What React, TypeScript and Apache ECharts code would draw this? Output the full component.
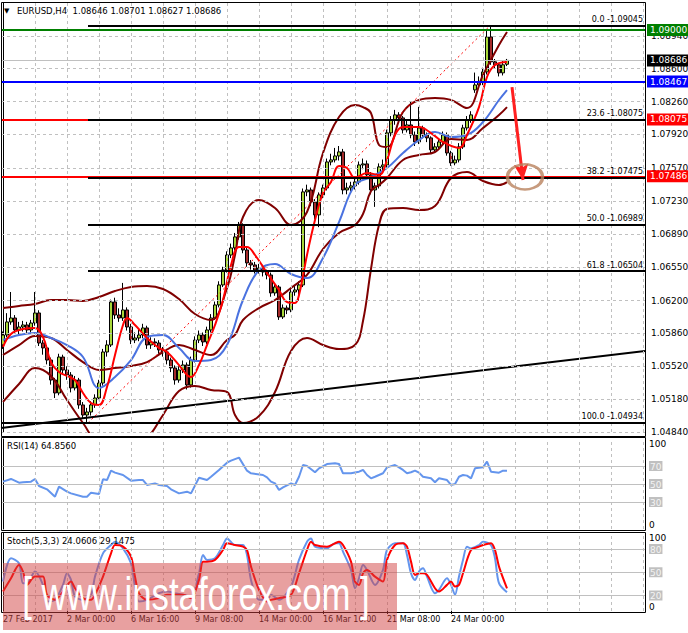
import React, { useEffect, useRef } from 'react';
import * as echarts from 'echarts';

const FONT = 'DejaVu Sans';
const SLOTS = 161;

const instrument = 'EURUSD,H4';
const lastBarOHLC = ['1.08646', '1.08701', '1.08627', '1.08686'];
const rsiTitle = 'RSI(14) 64.8560';
const stochTitle = 'Stoch(5,3,3) 24.0606 29.1475';
const watermark = '[ www.instaforex.com ]';

// H4 bars: [open, close, low, high]
const candles: number[][] = [
  [1.05741, 1.05844, 1.05700, 1.05880], [1.05844, 1.05979, 1.05820, 1.06070], [1.05979, 1.06020, 1.05950, 1.06289],
  [1.06020, 1.05896, 1.05860, 1.06050], [1.05896, 1.05927, 1.05850, 1.05980], [1.05927, 1.05948, 1.05880, 1.05990],
  [1.05948, 1.05896, 1.05860, 1.05980], [1.05896, 1.05968, 1.05870, 1.06000], [1.05968, 1.06072, 1.05940, 1.06289],
  [1.06072, 1.05761, 1.05730, 1.06100], [1.05761, 1.05710, 1.05640, 1.05790], [1.05710, 1.05585, 1.05540, 1.05740],
  [1.05585, 1.05378, 1.05330, 1.05610], [1.05378, 1.05244, 1.05192, 1.05400], [1.05244, 1.05616, 1.05220, 1.05650],
  [1.05616, 1.05482, 1.05440, 1.05640], [1.05482, 1.05430, 1.05380, 1.05520], [1.05430, 1.05296, 1.05250, 1.05460],
  [1.05296, 1.05378, 1.05270, 1.05420], [1.05378, 1.05120, 1.05080, 1.05400], [1.05120, 1.05016, 1.04980, 1.05150],
  [1.05016, 1.05047, 1.04934, 1.05090], [1.05047, 1.05120, 1.05010, 1.05160], [1.05120, 1.05192, 1.05090, 1.05230],
  [1.05192, 1.05347, 1.05170, 1.05380], [1.05347, 1.05668, 1.05320, 1.05700], [1.05668, 1.05741, 1.05620, 1.05790],
  [1.05741, 1.06186, 1.05720, 1.06210], [1.06186, 1.06051, 1.06010, 1.06230], [1.06051, 1.06020, 1.05980, 1.06120],
  [1.06020, 1.06103, 1.05990, 1.06383], [1.06103, 1.05927, 1.05890, 1.06130], [1.05927, 1.05792, 1.05750, 1.05960],
  [1.05792, 1.05813, 1.05760, 1.05870], [1.05813, 1.05844, 1.05780, 1.05900], [1.05844, 1.05917, 1.05810, 1.05960],
  [1.05917, 1.05741, 1.05700, 1.05940], [1.05741, 1.05772, 1.05700, 1.05820], [1.05772, 1.05761, 1.05720, 1.05810],
  [1.05761, 1.05689, 1.05650, 1.05790], [1.05689, 1.05668, 1.05620, 1.05720], [1.05668, 1.05585, 1.05540, 1.05700],
  [1.05585, 1.05503, 1.05460, 1.05610], [1.05503, 1.05378, 1.05330, 1.05530], [1.05378, 1.05482, 1.05350, 1.05520],
  [1.05482, 1.05534, 1.05450, 1.05580], [1.05534, 1.05327, 1.05280, 1.05560], [1.05327, 1.05585, 1.05300, 1.05620],
  [1.05585, 1.05792, 1.05560, 1.05830], [1.05792, 1.05844, 1.05760, 1.05890], [1.05844, 1.05772, 1.05730, 1.05870],
  [1.05772, 1.05896, 1.05750, 1.05930], [1.05896, 1.06020, 1.05870, 1.06060], [1.06020, 1.06155, 1.06000, 1.06190],
  [1.06155, 1.06362, 1.06130, 1.06400], [1.06362, 1.06517, 1.06340, 1.06550], [1.06517, 1.06672, 1.06490, 1.06710],
  [1.06672, 1.06745, 1.06640, 1.06790], [1.06745, 1.06859, 1.06720, 1.06900], [1.06859, 1.06983, 1.06830, 1.07014],
  [1.06983, 1.06724, 1.06690, 1.07000], [1.06724, 1.06590, 1.06550, 1.06750], [1.06590, 1.06569, 1.06520, 1.06620],
  [1.06569, 1.06517, 1.06480, 1.06600], [1.06517, 1.06538, 1.06480, 1.06580], [1.06538, 1.06496, 1.06450, 1.06570],
  [1.06496, 1.06465, 1.06420, 1.06520], [1.06465, 1.06279, 1.06240, 1.06490], [1.06279, 1.06341, 1.06250, 1.06380],
  [1.06341, 1.06031, 1.06000, 1.06360], [1.06031, 1.06124, 1.06010, 1.06160], [1.06124, 1.06103, 1.06060, 1.06150],
  [1.06103, 1.06289, 1.06080, 1.06320], [1.06289, 1.06310, 1.06250, 1.06360], [1.06310, 1.06362, 1.06200, 1.06400],
  [1.06362, 1.07325, 1.06340, 1.07360], [1.07325, 1.07345, 1.07280, 1.07400], [1.07345, 1.07221, 1.07180, 1.07370],
  [1.07221, 1.07087, 1.07040, 1.07250], [1.07087, 1.07294, 1.06960, 1.07320], [1.07294, 1.07366, 1.07260, 1.07400],
  [1.07366, 1.07635, 1.07340, 1.07670], [1.07635, 1.07656, 1.07600, 1.07720], [1.07656, 1.07697, 1.07630, 1.07780],
  [1.07697, 1.07739, 1.07650, 1.07800], [1.07739, 1.07345, 1.07300, 1.07770], [1.07345, 1.07366, 1.07300, 1.07420],
  [1.07366, 1.07387, 1.07330, 1.07430], [1.07387, 1.07428, 1.07350, 1.07470], [1.07428, 1.07604, 1.07400, 1.07640],
  [1.07604, 1.07615, 1.07560, 1.07670], [1.07615, 1.07501, 1.07460, 1.07650], [1.07501, 1.07345, 1.07300, 1.07530],
  [1.07345, 1.07387, 1.07170, 1.07420], [1.07387, 1.07584, 1.07360, 1.07620], [1.07584, 1.07604, 1.07550, 1.07660],
  [1.07604, 1.07936, 1.07580, 1.07970], [1.07936, 1.08070, 1.07900, 1.08110], [1.08070, 1.08122, 1.08020, 1.08174],
  [1.08122, 1.08091, 1.08050, 1.08150], [1.08091, 1.07967, 1.07930, 1.08110], [1.07967, 1.08018, 1.07940, 1.08060],
  [1.08018, 1.07915, 1.07880, 1.08256], [1.07915, 1.07842, 1.07800, 1.07950], [1.07842, 1.07987, 1.07820, 1.08205],
  [1.07987, 1.07915, 1.07880, 1.08010], [1.07915, 1.07884, 1.07840, 1.07940], [1.07884, 1.07760, 1.07720, 1.07900],
  [1.07760, 1.07791, 1.07730, 1.07830], [1.07791, 1.07842, 1.07760, 1.07880], [1.07842, 1.07915, 1.07820, 1.07950],
  [1.07915, 1.07728, 1.07700, 1.07940], [1.07728, 1.07625, 1.07594, 1.07750], [1.07625, 1.07656, 1.07600, 1.07700],
  [1.07656, 1.07791, 1.07630, 1.07830], [1.07791, 1.07987, 1.07770, 1.08020], [1.07987, 1.08070, 1.07960, 1.08110],
  [1.08070, 1.08122, 1.08040, 1.08160], [1.08381, 1.08432, 1.08350, 1.08560], [1.08432, 1.08464, 1.08390, 1.08520],
  [1.08464, 1.08567, 1.08430, 1.08610], [1.08567, 1.08929, 1.08540, 1.08990], [1.08929, 1.08671, 1.08640, 1.09045],
  [1.08671, 1.08640, 1.08600, 1.08700], [1.08640, 1.08557, 1.08520, 1.08660], [1.08557, 1.08640, 1.08530, 1.08680],
  [1.08646, 1.08686, 1.08627, 1.08701],
];

const timeLabels: [number, string][] = [
  [0, '27 Feb 2017'], [16, '2 Mar 00:00'], [32, '6 Mar 16:00'], [48, '9 Mar 08:00'],
  [64, '14 Mar 00:00'], [80, '16 Mar 16:00'], [96, '21 Mar 08:00'], [112, '24 Mar 00:00'],
];

const priceTicks = ['1.04840', '1.05180', '1.05520', '1.05860', '1.06200', '1.06550', '1.06890',
  '1.07230', '1.07570', '1.07920', '1.08260', '1.08600', '1.08940'];
const rsiTicks = ['0', '30', '50', '70', '100'];
const stochTicks = ['0', '20', '50', '80', '100'];
const rsiLevels = [30, 50, 70];
const stochLevels = [20, 50, 80];

// Bollinger bands (bar index, price)
const bbUpper: number[][] = [
  [0, 1.06123], [4, 1.06144], [8, 1.06165], [12, 1.06206], [16, 1.06206], [20, 1.06196], [24, 1.06237],
  [28, 1.06299], [32, 1.06341], [36, 1.06351], [40, 1.06320], [44, 1.06216], [48, 1.06061], [52, 1.05999],
  [56, 1.06330], [58, 1.06672], [60, 1.07065], [64, 1.07241], [68, 1.07158], [72, 1.06982], [76, 1.07117],
  [80, 1.07727], [84, 1.08100], [88, 1.08224], [90, 1.08203], [92, 1.08141], [94, 1.07810], [96, 1.07789],
  [100, 1.08152], [104, 1.08276], [108, 1.08297], [112, 1.08276], [116, 1.08193], [120, 1.08535],
  [124, 1.08845], [126, 1.08980],
];
const bbMiddle: number[][] = [
  [0, 1.05637], [4, 1.05740], [8, 1.05834], [12, 1.05813], [16, 1.05689], [20, 1.05564], [24, 1.05482],
  [28, 1.05502], [32, 1.05523], [36, 1.05564], [40, 1.05668], [44, 1.05740], [48, 1.05689], [52, 1.05637],
  [56, 1.05792], [58, 1.05844], [60, 1.05999], [64, 1.06123], [68, 1.06206], [72, 1.06330], [76, 1.06465],
  [80, 1.06734], [84, 1.06900], [88, 1.06982], [90, 1.07096], [92, 1.07334], [94, 1.07396], [96, 1.07469],
  [100, 1.07655], [104, 1.07707], [108, 1.07738], [112, 1.07872], [116, 1.07862], [120, 1.07986],
  [124, 1.08121], [126, 1.08203],
];
const bbLower: number[][] = [
  [0, 1.05151], [4, 1.05337], [8, 1.05502], [12, 1.05420], [16, 1.05171], [20, 1.04933], [24, 1.04726],
  [28, 1.04705], [32, 1.04705], [36, 1.04778], [40, 1.05016], [44, 1.05264], [48, 1.05316], [52, 1.05275],
  [56, 1.05254], [58, 1.05016], [60, 1.04933], [64, 1.05006], [68, 1.05254], [72, 1.05678], [76, 1.05813],
  [80, 1.05740], [84, 1.05699], [88, 1.05740], [90, 1.05989], [92, 1.06527], [94, 1.06982], [96, 1.07148],
  [100, 1.07158], [104, 1.07138], [108, 1.07179], [112, 1.07469], [116, 1.07531], [120, 1.07438],
  [124, 1.07396], [126, 1.07427],
];
const maBlue: number[][] = [
  [0, 1.05792], [4, 1.05844], [8, 1.05865], [12, 1.05813], [16, 1.05740], [20, 1.05616], [24, 1.05295],
  [28, 1.05409], [32, 1.05585], [36, 1.05823], [40, 1.05844], [44, 1.05709], [48, 1.05575], [52, 1.05585],
  [56, 1.05740], [60, 1.06206], [64, 1.06517], [68, 1.06579], [72, 1.06475], [76, 1.06434], [80, 1.06641],
  [84, 1.07013], [88, 1.07396], [92, 1.07479], [96, 1.07572], [100, 1.07727], [104, 1.07862], [108, 1.07945],
  [112, 1.07893], [116, 1.07914], [120, 1.08048], [124, 1.08276], [126, 1.08379],
];
const maRed: number[][] = [
  [0, 1.05720], [2, 1.05854], [5, 1.05906], [8, 1.05916], [10, 1.05823], [12, 1.05564], [14, 1.05461],
  [16, 1.05420], [18, 1.05378], [20, 1.05244], [22, 1.05140], [24, 1.05119], [26, 1.05306], [28, 1.05637],
  [30, 1.05947], [31, 1.06020], [33, 1.05947], [36, 1.05813], [39, 1.05709], [41, 1.05668], [44, 1.05533],
  [46, 1.05430], [47, 1.05409], [49, 1.05533], [51, 1.05740], [53, 1.05947], [55, 1.06206], [57, 1.06568],
  [59, 1.06755], [61, 1.06755], [63, 1.06672], [66, 1.06486], [69, 1.06310], [71, 1.06185], [73, 1.06175],
  [74, 1.06258], [76, 1.06672], [78, 1.07034], [80, 1.07313], [82, 1.07427], [84, 1.07593], [86, 1.07572],
  [88, 1.07469], [91, 1.07520], [94, 1.07500], [96, 1.07655], [98, 1.07914], [100, 1.07996], [104, 1.07996],
  [107, 1.07934], [110, 1.07841], [114, 1.07779], [116, 1.07914], [119, 1.08203], [121, 1.08514],
  [123, 1.08638], [126, 1.08669],
];

const rsi14: number[][] = [
  [0, 52.6], [2, 55.6], [4, 51.5], [5, 51.9], [7, 52.6], [8, 55.6], [9, 47.8], [11, 44.1], [13, 35.9], [14, 47.0],
  [16, 41.5], [17, 39.6], [20, 35.9], [21, 35.9], [22, 40.4], [24, 38.9], [25, 55.2], [26, 54.4], [27, 64.8],
  [28, 62.6], [30, 60.0], [32, 53.7], [34, 54.4], [35, 54.4], [36, 48.9], [38, 50.7], [39, 48.9], [41, 47.8],
  [42, 44.1], [44, 39.6], [46, 41.5], [47, 39.6], [49, 57.0], [51, 54.4], [52, 58.1], [54, 65.6], [56, 73.7],
  [57, 75.9], [59, 79.3], [61, 64.8], [62, 61.9], [65, 60.0], [66, 57.4], [67, 52.6], [68, 50.7], [69, 43.3],
  [70, 46.3], [72, 50.7], [73, 48.9], [74, 58.1], [75, 71.1], [76, 70.0], [78, 63.0], [79, 67.4], [81, 72.2],
  [83, 73.0], [84, 72.2], [85, 61.9], [87, 61.9], [89, 63.7], [90, 65.6], [91, 60.0], [92, 56.3], [93, 58.1],
  [95, 61.9], [96, 68.5], [98, 71.1], [99, 68.5], [100, 65.6], [101, 61.9], [102, 63.0], [103, 64.8],
  [104, 62.6], [105, 58.1], [107, 56.3], [108, 51.9], [109, 56.3], [111, 54.4], [112, 48.9], [113, 50.0],
  [114, 58.1], [115, 60.0], [116, 59.3], [117, 56.3], [118, 67.4], [120, 68.5], [121, 74.8], [122, 63.7],
  [124, 62.6], [125, 64.8], [126, 64.86],
];

const stochMain: number[][] = [
  [0, 38.0], [2, 68.0], [4, 61.6], [5, 35.9], [6, 35.9], [8, 50.9], [10, 33.7], [11, 12.3], [13, 14.4],
  [15, 33.7], [16, 48.7], [17, 40.1], [18, 18.7], [20, 14.4], [22, 20.9], [23, 44.4], [25, 74.4], [27, 85.1],
  [28, 89.4], [30, 80.9], [32, 61.6], [33, 31.6], [34, 12.3], [36, 14.4], [39, 23.0], [41, 25.1], [43, 23.0],
  [45, 20.9], [47, 18.7], [49, 48.7], [50, 72.3], [51, 65.9], [53, 68.0], [55, 85.1], [56, 93.7], [58, 85.1],
  [60, 85.1], [61, 72.3], [62, 40.1], [64, 14.4], [66, 14.4], [67, 20.9], [69, 14.4], [72, 31.6], [74, 65.9],
  [76, 89.4], [77, 93.7], [78, 83.0], [81, 80.9], [83, 87.3], [84, 87.3], [85, 76.6], [87, 53.0], [88, 29.4],
  [89, 42.3], [90, 59.4], [91, 53.0], [93, 33.7], [95, 53.0], [96, 78.7], [98, 87.3], [100, 87.3], [101, 72.3],
  [102, 48.7], [103, 40.1], [104, 50.9], [105, 55.1], [106, 44.4], [108, 23.0], [109, 27.3], [111, 42.3],
  [112, 33.7], [113, 20.9], [114, 44.4], [115, 65.9], [116, 83.0], [117, 80.9], [119, 85.1], [120, 89.4],
  [122, 85.1], [123, 68.0], [124, 35.9], [126, 24.06],
];
const stochSignal: number[][] = [
  [0, 25.1], [2, 42.3], [4, 59.4], [5, 50.9], [6, 33.7], [8, 44.4], [10, 44.4], [11, 20.9], [13, 14.4],
  [15, 25.1], [17, 38.0], [18, 29.4], [20, 16.6], [22, 14.4], [23, 20.9], [25, 44.4], [27, 74.4], [28, 85.1],
  [30, 83.0], [32, 70.1], [33, 44.4], [34, 23.0], [36, 14.4], [39, 16.6], [41, 20.9], [43, 20.9], [45, 20.9],
  [47, 16.6], [49, 40.1], [50, 63.7], [51, 63.7], [53, 65.9], [55, 78.7], [56, 87.3], [58, 85.1], [60, 83.0],
  [61, 78.7], [62, 57.3], [64, 27.3], [66, 12.3], [67, 14.4], [69, 16.6], [72, 20.9], [74, 48.7], [76, 78.7],
  [77, 89.4], [78, 85.1], [81, 83.0], [83, 87.3], [84, 89.4], [85, 85.1], [87, 63.7], [88, 38.0], [89, 33.7],
  [90, 48.7], [91, 53.0], [93, 44.4], [95, 38.0], [96, 65.9], [98, 85.1], [100, 87.3], [101, 83.0], [102, 63.7],
  [103, 46.6], [104, 48.7], [105, 48.7], [106, 46.6], [108, 29.4], [109, 25.1], [111, 33.7], [112, 38.0],
  [113, 31.6], [114, 33.7], [115, 48.7], [117, 78.7], [119, 83.0], [120, 85.1], [122, 87.3], [123, 78.7],
  [124, 57.3], [126, 29.15],
];

// Horizontal price levels: green, bid, blue, red, red
const hLinePrices = [1.09000, 1.08686, 1.08467, 1.08075, 1.07486];
// Fibonacci retracement
const fibPercents = ['0.0', '23.6', '38.2', '50.0', '61.8', '100.0'];
const fibPrices = [1.09045, 1.08075, 1.07475, 1.06989, 1.06504, 1.04934];
const fibStartBars = [21.25, 21.25, 21.25, 21.25, 21.25, -0.5];
const fibDiagonal = [[21.25, 1.04934], [121.75, 1.09045]];
const trendLine = [[-0.5, 1.04881], [160.5, 1.05679]];
const arrowLine = [[127.25, 1.0841], [130, 1.07448]];
const targetMark = [[130.5, 1.0748]];

function buildOption(): any {
  const labelMap: Record<number, string> = {};
  timeLabels.forEach(([i, s]) => { labelMap[i] = s; });
  const cats = Array.from({ length: SLOTS }, (_, i) => String(i));
  const gridBars = Array.from({ length: 20 }, (_, k) => 8 * (k + 1));
  const XMIN = -0.5;
  const XMAX = SLOTS - 0.5;
  const PMIN = 1.0484;
  const PMAX = 1.0928;
  const dash = { color: '#c0c0c0', width: 1, type: [3, 3] };

  const hStyles = [
    { color: '#008000', width: 2, bg: '#008000' },
    { color: '#c0c0c0', width: 1, bg: '#000000' },
    { color: '#0000ff', width: 2, bg: '#0000ff' },
    { color: '#ff0000', width: 2, bg: '#ff0000' },
    { color: '#ff0000', width: 2, bg: '#ff0000' },
  ];

  const hPair = (y: number, extra: any = {}) => [{ coord: [XMIN, y], ...extra }, { coord: [XMAX, y] }];
  const vPair = (x: number, y0: number, y1: number, extra: any = {}) => [{ coord: [x, y0], ...extra }, { coord: [x, y1] }];

  const line = (data: number[][], color: string, width: number, xi: number, yi: number, z: number, smooth: number | boolean = 0.4) => ({
    type: 'line', data, xAxisIndex: xi, yAxisIndex: yi, showSymbol: false, symbol: 'none', smooth, z,
    silent: true, clip: true, lineStyle: { color, width }, itemStyle: { color }, emphasis: { disabled: true },
  });

  const subAxisLabel = (ticks: string[]) => ({
    show: true, margin: 4, fontSize: 9, fontFamily: FONT, color: '#000',
    showMinLabel: true, showMaxLabel: true,
    verticalAlignMaxLabel: 'top', verticalAlignMinLabel: 'bottom',
    formatter: (v: number) => {
      const s = String(Math.round(v));
      if (!ticks.includes(s)) return '';
      if (s === '0' || s === '100') return s;
      return `{g|${s}}`;
    },
    rich: { g: { backgroundColor: '#c0c0c0', color: '#f4f4f4', padding: [1, 1, 0, 1], fontSize: 9, fontFamily: FONT } },
  });

  const markerBase = { silent: true, symbol: 'none', animation: false, emphasis: { disabled: true } };

  return {
    animation: false,
    backgroundColor: '#ffffff',
    textStyle: { fontFamily: FONT },
    grid: [
      { left: 1, right: 43, top: 3, bottom: 201 },
      { left: 1, right: 43, top: 439, bottom: 104 },
      { left: 1, right: 43, top: 533.5, bottom: 22 },
    ],
    xAxis: [
      { type: 'category', gridIndex: 0, data: cats, boundaryGap: true, show: false, position: 'bottom' },
      { type: 'value', gridIndex: 0, min: XMIN, max: XMAX, show: false, position: 'top' },
      { type: 'value', gridIndex: 1, min: XMIN, max: XMAX, show: false },
      { type: 'value', gridIndex: 2, min: XMIN, max: XMAX, show: false, position: 'top' },
      {
        type: 'category', gridIndex: 2, data: cats, boundaryGap: true, position: 'bottom',
        axisLine: { show: false },
        axisTick: { show: true, alignWithLabel: true, length: 3, lineStyle: { color: '#000' },
          interval: (i: number) => labelMap[i] !== undefined && i > 0 },
        axisLabel: { show: true, interval: (i: number) => labelMap[i] !== undefined, align: 'left', margin: 4,
          fontSize: 8, fontFamily: FONT, color: '#000', formatter: (_v: string, i: number) => labelMap[i] ?? '' },
        splitLine: { show: false },
      },
    ],
    yAxis: [
      { type: 'value', gridIndex: 0, position: 'right', min: PMIN, max: PMAX,
        axisLine: { show: true, lineStyle: { color: '#000' } }, axisTick: { show: false },
        axisLabel: { show: false }, splitLine: { show: false } },
      { type: 'value', gridIndex: 1, position: 'right', min: 0, max: 100, interval: 10,
        axisLine: { show: true, lineStyle: { color: '#000' } }, axisTick: { show: false },
        axisLabel: subAxisLabel(rsiTicks), splitLine: { show: false } },
      { type: 'value', gridIndex: 2, position: 'right', min: 0, max: 100, interval: 10,
        axisLine: { show: true, lineStyle: { color: '#000' } }, axisTick: { show: false },
        axisLabel: subAxisLabel(stochTicks), splitLine: { show: false } },
    ],
    series: [
      // main grid lines + price tick labels
      {
        type: 'line', data: [], xAxisIndex: 1, yAxisIndex: 0, z: 1, silent: true,
        markLine: {
          ...markerBase, lineStyle: dash, label: { show: false },
          data: [
            ...gridBars.map((b) => vPair(b, PMIN, PMAX)),
            ...priceTicks.map((t) => hPair(parseFloat(t), {
              label: { show: true, position: 'end', distance: 6, formatter: t, color: '#000', fontSize: 9, fontFamily: FONT },
            })),
          ],
        },
      },
      {
        type: 'candlestick', xAxisIndex: 0, yAxisIndex: 0, data: candles, barWidth: 3, z: 2, silent: true,
        emphasis: { disabled: true },
        itemStyle: { color: '#a8d83a', color0: '#a52a2a', borderColor: '#000', borderColor0: '#000', borderWidth: 1 },
      },
      line(bbUpper, '#800000', 2, 1, 0, 3),
      line(bbMiddle, '#800000', 2, 1, 0, 3),
      line(bbLower, '#800000', 2, 1, 0, 3),
      line(maBlue, '#4a72e0', 2, 1, 0, 3),
      line(maRed, '#ff0000', 2, 1, 0, 3),
      line(trendLine, '#000000', 2, 1, 0, 4, false),
      { ...line(fibDiagonal, '#ff0000', 1, 1, 0, 4, false), lineStyle: { color: '#ff0000', width: 1, type: [2, 3] } },
      // horizontal price levels
      {
        type: 'line', data: [], xAxisIndex: 1, yAxisIndex: 0, z: 5, silent: true,
        markLine: {
          ...markerBase,
          data: hLinePrices.map((p, k) => hPair(p, {
            lineStyle: { color: hStyles[k].color, width: hStyles[k].width, type: 'solid' },
            label: { show: true, position: 'end', distance: 2, formatter: p.toFixed(5), color: '#fff',
              backgroundColor: hStyles[k].bg, padding: [2, 3, 1, 3], fontSize: 9, fontFamily: FONT },
          })),
        },
      },
      // fibonacci levels
      {
        type: 'line', data: [], xAxisIndex: 1, yAxisIndex: 0, z: 6, silent: true,
        markLine: {
          ...markerBase,
          lineStyle: { color: '#000', width: 2, type: 'solid' },
          label: { show: true, position: 'insideEndTop', distance: 2, color: '#000', fontSize: 8, fontFamily: FONT },
          data: fibPrices.map((p, k) => [
            { coord: [fibStartBars[k], p], label: { formatter: `${fibPercents[k]} -${p.toFixed(5)}` } },
            { coord: [XMAX, p] },
          ]),
        },
      },
      // arrow
      {
        type: 'line', data: [], xAxisIndex: 1, yAxisIndex: 0, z: 7, silent: true,
        markLine: {
          ...markerBase, symbol: ['none', 'arrow'], symbolSize: [11, 16], label: { show: false },
          lineStyle: { color: '#ff2020', width: 3, type: 'solid' },
          data: [[{ coord: arrowLine[0] }, { coord: arrowLine[1] }]],
        },
      },
      {
        type: 'scatter', xAxisIndex: 1, yAxisIndex: 0, data: targetMark, symbol: 'circle', symbolSize: [35, 25],
        z: 7, silent: true, emphasis: { disabled: true },
        itemStyle: { color: 'rgba(0,0,0,0)', borderColor: '#b9825e', borderWidth: 3 },
      },
      // RSI panel
      {
        type: 'line', data: [], xAxisIndex: 2, yAxisIndex: 1, z: 1, silent: true,
        markLine: {
          ...markerBase, label: { show: false },
          data: [
            ...gridBars.map((b) => vPair(b, 0, 100, { lineStyle: dash })),
            ...rsiLevels.map((v) => hPair(v, { lineStyle: { color: '#c0c0c0', width: 1, type: 'solid' } })),
          ],
        },
      },
      line(rsi14, '#6495ed', 2, 2, 1, 3, false),
      // Stochastic panel
      {
        type: 'line', data: [], xAxisIndex: 3, yAxisIndex: 2, z: 1, silent: true,
        markLine: {
          ...markerBase, label: { show: false },
          data: [
            ...gridBars.map((b) => vPair(b, 0, 100, { lineStyle: dash })),
            ...stochLevels.map((v) => hPair(v, { lineStyle: { color: '#c0c0c0', width: 1, type: 'solid' } })),
          ],
        },
      },
      line(stochMain, '#6495ed', 2, 3, 2, 3, 0.3),
      line(stochSignal, '#ff0000', 2, 3, 2, 3, 0.3),
    ],
    graphic: [
      { type: 'rect', silent: true, z: 50, shape: { x: 1.5, y: 2.5, width: 644, height: 434 }, style: { fill: 'none', stroke: '#000', lineWidth: 1 } },
      { type: 'rect', silent: true, z: 50, shape: { x: 1.5, y: 437.5, width: 644, height: 93 }, style: { fill: 'none', stroke: '#000', lineWidth: 1 } },
      { type: 'rect', silent: true, z: 50, shape: { x: 1.5, y: 532.5, width: 644, height: 80 }, style: { fill: 'none', stroke: '#000', lineWidth: 1 } },
      { type: 'text', silent: true, z: 60, x: 4, y: 11, style: { text: '▼', fontSize: 7, fontFamily: FONT, fill: '#000', verticalAlign: 'middle', textVerticalAlign: 'middle' } },
      { type: 'text', silent: true, z: 60, x: 17, y: 11, style: { text: `${instrument}  ${lastBarOHLC.join(' ')}`, fontSize: 8.5, fontFamily: FONT, fill: '#000', verticalAlign: 'middle', textVerticalAlign: 'middle' } },
      { type: 'text', silent: true, z: 60, x: 7, y: 446, style: { text: rsiTitle, fontSize: 8.5, fontFamily: FONT, fill: '#000', verticalAlign: 'middle', textVerticalAlign: 'middle' } },
      { type: 'text', silent: true, z: 60, x: 7, y: 541, style: { text: stochTitle, fontSize: 8.5, fontFamily: FONT, fill: '#000', verticalAlign: 'middle', textVerticalAlign: 'middle' } },
      { type: 'rect', silent: true, z: 100, shape: { x: 3, y: 563, width: 394, height: 67 }, style: { fill: 'rgba(209,65,65,0.5)' } },
      { type: 'text', silent: true, z: 101, x: 196, y: 594, scaleX: 0.755, style: { text: watermark, font: '46px "Liberation Sans"', fill: '#ffffff', align: 'center', textAlign: 'center', verticalAlign: 'middle', textVerticalAlign: 'middle' } },
    ],
  };
}

export default function App() {
  const ref = useRef<HTMLDivElement>(null);
  useEffect(() => {
    if (!ref.current) return;
    const chart = echarts.init(ref.current, null, { renderer: 'svg' });
    chart.setOption(buildOption());
    return () => chart.dispose();
  }, []);
  return <div ref={ref} style={{ position: 'absolute', left: 0, top: 0, width: 688, height: 633, background: '#fff' }} />;
}
